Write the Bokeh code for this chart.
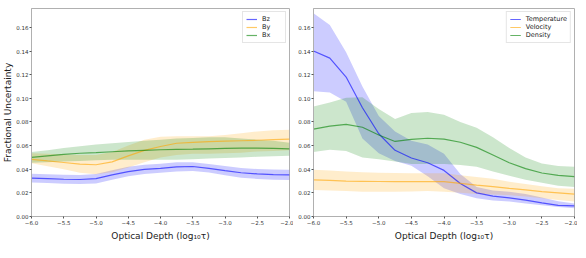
from bokeh.plotting import figure
from bokeh.layouts import row
from bokeh.models import FixedTicker, Range1d
from bokeh.embed import file_html
from bokeh.resources import INLINE

depth = [-6.0, -5.75, -5.5, -5.25, -5.0, -4.75, -4.5, -4.25, -4.0,
         -3.75, -3.5, -3.25, -3.0, -2.75, -2.5, -2.25, -2.0]

# Left panel: magnetic field components
bz = [.0324, .032, .0315, .0313, .032, .0352, .0380, .0398, .0408, .042, .0423, .0408, .0388, .037, .036, .0355, .0353]
bz_lo = [.0287, .0283, .0278, .0274, .028, .0312, .034, .036, .037, .038, .0385, .0372, .0348, .0328, .0318, .0312, .0308]
bz_hi = [.0362, .0358, .0353, .0352, .036, .0392, .042, .0438, .0447, .0458, .046, .0445, .0428, .041, .0402, .0398, .0396]

by = [.0484, .047, .0457, .0443, .0438, .0462, .0513, .056, .0592, .062, .0628, .0633, .0637, .0641, .0645, .065, .0654]
by_lo = [.045, .0425, .040, .037, .0358, .0375, .0414, .046, .050, .052, .053, .053, .0535, .054, .055, .0555, .056]
by_hi = [.0535, .053, .0525, .052, .052, .0545, .060, .065, .0675, .068, .068, .068, .069, .0705, .072, .073, .0735]

bx = [.0500, .0513, .0526, .0535, .0541, .0548, .0555, .056, .0565, .0568, .057, .0573, .0576, .0578, .0578, .0576, .0573]
bx_lo = [.0455, .046, .0465, .047, .0475, .048, .048, .048, .048, .048, .0485, .049, .0495, .050, .0505, .051, .0515]
bx_hi = [.0545, .056, .058, .0595, .061, .062, .063, .064, .065, .066, .0665, .067, .067, .066, .065, .064, .0625]

# Right panel: thermodynamic quantities
temp = [.140, .134, .118, .092, .070, .056, .0495, .0455, .039, .028, .020, .0172, .0158, .0138, .0115, .0094, .009]
temp_lo = [.106, .105, .097, .066, .0535, .047, .043, .034, .024, .019, .0155, .0135, .0127, .011, .0095, .008, .007]
temp_hi = [.172, .162, .139, .110, .085, .072, .064, .061, .053, .036, .025, .022, .021, .019, .016, .013, .011]

vel = [.031, .0305, .030, .0298, .0296, .0295, .0295, .0296, .0295, .028, .0265, .0252, .0238, .0225, .021, .020, .019]
vel_lo = [.0225, .022, .0215, .021, .021, .021, .0212, .0215, .021, .020, .019, .0187, .018, .017, .0155, .014, .0127]
vel_hi = [.0395, .039, .038, .0375, .037, .0368, .0366, .0366, .0365, .035, .0335, .032, .0295, .0275, .0255, .024, .0234]

dens = [.074, .0765, .078, .0755, .069, .0635, .0652, .0662, .0655, .0628, .0585, .052, .0455, .0405, .0368, .0348, .0338]
dens_lo = [.0545, .0565, .0555, .050, .0485, .0465, .0445, .0445, .0445, .0435, .042, .038, .0345, .031, .0285, .026, .025]
dens_hi = [.093, .0965, .1005, .101, .091, .0825, .0875, .0885, .086, .080, .075, .067, .058, .050, .0448, .0428, .042]

x_ticks = [-6.0, -5.5, -5.0, -4.5, -4.0, -3.5, -3.0, -2.5, -2.0]
y_ticks = [0.0, 0.02, 0.04, 0.06, 0.08, 0.10, 0.12, 0.14, 0.16]

BLUE = "#0000ff"
ORANGE = "#ffa500"
GREEN = "#008000"
FONT = "DejaVu Sans"
AXC = "#b0b0b0"


def make_fig(series, fw, left_border, right_border, ylabel):
    p = figure(output_backend="svg", toolbar_location=None,
               frame_width=fw, frame_height=208,
               min_border_left=left_border, min_border_right=right_border,
               min_border_top=8, min_border_bottom=22,
               x_range=Range1d(-6.0, -2.0), y_range=Range1d(0.0, 0.176),
               background_fill_color="white", border_fill_color="white")
    p.grid.visible = False
    p.outline_line_color = AXC
    p.outline_line_width = 1
    for ax in (p.xaxis[0], p.yaxis[0]):
        ax.axis_line_color = AXC
        ax.major_tick_line_color = "#555555"
        ax.major_tick_out = 2
        ax.major_tick_in = 0
        ax.minor_tick_out = 0
        ax.minor_tick_in = 0
        ax.major_label_text_font = FONT
        ax.major_label_text_font_size = "5.5px"
        ax.major_label_text_color = "#333333"
        ax.major_label_standoff = 1
        ax.axis_label_text_font = FONT
        ax.axis_label_text_font_style = "normal"
        ax.axis_label_text_color = "#222222"
    p.xaxis.ticker = FixedTicker(ticks=x_ticks)
    p.xaxis.major_label_overrides = {t: ("%.1f" % t).replace("-", "\u2212") for t in x_ticks}
    p.yaxis.ticker = FixedTicker(ticks=y_ticks)
    p.yaxis.major_label_overrides = {t: "%.2f" % t for t in y_ticks}
    p.xaxis.axis_label = "Optical Depth (log\u2081\u2080\u03c4)"
    p.xaxis.axis_label_text_font_size = "9px"
    p.xaxis.axis_label_standoff = 3
    if ylabel:
        p.yaxis.axis_label = ylabel
        p.yaxis.axis_label_text_font_size = "9px"
        p.yaxis.axis_label_standoff = 0

    for name, mid, lo, hi, col in series:
        p.varea(x=depth, y1=lo, y2=hi, fill_color=col, fill_alpha=0.2)
    for name, mid, lo, hi, col in series:
        p.line(x=depth, y=mid, line_color=col, line_alpha=0.6, line_width=1.2,
               legend_label=name)

    lg = p.legend[0]
    lg.location = "top_right"
    lg.margin = 3
    lg.padding = 3
    lg.spacing = 0
    lg.label_text_font = FONT
    lg.label_text_font_size = "6.5px"
    lg.label_text_color = "#222222"
    lg.label_height = 8
    lg.label_standoff = 5
    lg.glyph_width = 11
    lg.glyph_height = 8
    lg.border_line_color = "#cccccc"
    lg.border_line_width = 1
    lg.background_fill_alpha = 0.8
    return p


left = make_fig([("Bz", bz, bz_lo, bz_hi, BLUE),
                 ("By", by, by_lo, by_hi, ORANGE),
                 ("Bx", bx, bx_lo, bx_hi, GREEN)],
                258, 20, 4, "Fractional Uncertainty")
right = make_fig([("Temperature", temp, temp_lo, temp_hi, BLUE),
                  ("Velocity", vel, vel_lo, vel_hi, ORANGE),
                  ("Density", dens, dens_lo, dens_hi, GREEN)],
                 261, 20, 3, None)

layout = row(left, right)
open("out.html", "w").write(file_html(layout, INLINE))
